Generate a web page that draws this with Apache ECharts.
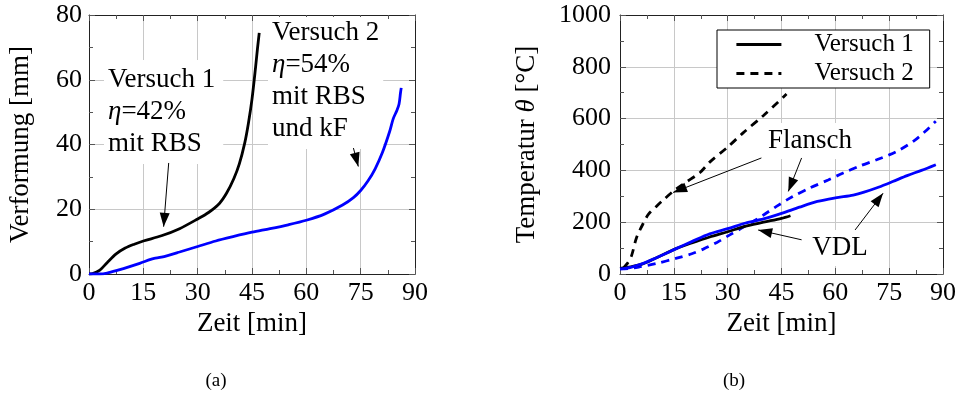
<!DOCTYPE html>
<html>
<head>
<meta charset="utf-8">
<script src="https://cdn.jsdelivr.net/npm/echarts@6/dist/echarts.min.js"></script>
<style>
  html, body { margin: 0; background: #fff; }
  #chart { width: 967px; height: 394px; }
</style>
</head>
<body>
<div id="chart"></div>
<script>
// --- data: (a) Verformung ---
const timeTicks = [0, 15, 30, 45, 60, 75, 90];
const defTicks = [0, 20, 40, 60, 80];
const tempTicks = [0, 200, 400, 600, 800, 1000];

const v1DefTime = [0, 1, 3, 5, 7.5, 10, 12.5, 15, 20, 25, 30, 33, 36, 38, 40, 41.5, 43, 44, 45, 46, 46.5, 47];
const v1Def     = [0, 0.1, 1.2, 3.5, 6.2, 8, 9.2, 10.2, 11.8, 14, 17, 19, 21.8, 25, 29.5, 34, 40.5, 46.5, 54, 64, 69.5, 74.5];

const v2DefTime = [0, 3, 5, 8, 11, 14, 17, 18, 20, 25, 30, 35, 40, 45, 50, 55, 60, 65, 70, 73, 75, 77, 79, 81, 83, 84, 85, 85.6, 86, 86.2];
const v2Def     = [0, 0, 0.3, 1.2, 2.2, 3.3, 4.5, 4.8, 5.2, 6.8, 8.5, 10.2, 11.6, 12.9, 14, 15.2, 16.6, 18.5, 21.3, 23.6, 25.8, 28.7, 32.5, 37.5, 44, 48, 50.5, 52.5, 56, 57.5];

// --- data: (b) Temperatur ---
const v1VdlTime = [0, 3, 6.5, 10, 15.8, 20, 25, 30, 34.3, 40, 45, 47.5];
const v1Vdl     = [22, 28, 40, 62, 99, 120, 143, 163, 182, 200, 215, 225];

const v2VdlTime = [0, 3, 6.5, 10, 15.8, 20, 25, 30, 35, 40, 45, 50, 55, 60, 65, 68, 72, 76, 80, 84, 88];
const v2Vdl     = [20, 26, 41, 62, 99, 125, 155, 175, 197, 213, 234, 258, 280, 294, 305, 316, 335, 357, 380, 400, 422];

const v1FlTime = [0.9, 2, 3.2, 4.6, 6.5, 8, 10.2, 12, 14.8, 18.6, 22.3, 25, 30, 34.3, 40, 46.4];
const v1Fl     = [22, 40, 70, 140, 196, 232, 262, 285, 319, 356, 392, 432, 490, 545, 612, 695];

const v2FlTime = [0, 3, 5.6, 10, 15.8, 20, 23.2, 27, 30.6, 34, 37.1, 40, 43.6, 48, 52.9, 58, 62.2, 67, 71.5, 75, 78, 82, 85, 88];
const v2Fl     = [20, 22, 28, 40, 61, 78, 96, 122, 151, 178, 203, 228, 261, 298, 332, 363, 390, 418, 441, 460, 480, 515, 550, 590];

// annotation arrows [from, to] in data coords
const leftArrows = [[[22, 34.3], [20.6, 14.6]], [[73, 38.9], [74.35, 33.2]]];
const rightArrows = [
  [[39.4, 448], [14.8, 315]],
  [[50.6, 448], [46.9, 319]],
  [[50.6, 132], [38.5, 170]],
  [[65.5, 170], [73.3, 312]]
];

const font = '"Liberation Serif", "Times New Roman", serif';
const fs = 26;   // tick labels
const fl = 27;   // axis names, notes
const gridColor = '#c8c8c8';
const axisColor = '#222';

function pairs(xs, ys) {
  return xs.map((x, i) => [x, ys[i]]);
}

function arrowLine(list) {
  return {
    silent: true,
    symbol: ['none', 'triangle'],
    symbolSize: [10, 14],
    symbolOffset: [[0, 0], [0, 7]],
    label: {show: false},
    lineStyle: {color: '#000', width: 1, type: 'solid'},
    emphasis: {disabled: true},
    data: list.map(a => [{coord: a[0]}, {coord: a[1]}])
  };
}

function xAxis(gridIndex, position, ticks, name) {
  const main = position === 'bottom';
  return {
    type: 'value', gridIndex, position,
    min: ticks[0], max: ticks[ticks.length - 1], interval: ticks[1] - ticks[0],
    name: main ? name : '',
    nameLocation: 'middle', nameGap: 33,
    nameTextStyle: {fontFamily: font, fontSize: fl, color: '#000'},
    axisLine: {show: true, onZero: false, lineStyle: {color: axisColor, width: 1}},
    axisTick: {show: true, inside: true, length: 6, lineStyle: {color: '#555'}},
    minorTick: {show: true, splitNumber: 2, length: 4, lineStyle: {color: '#555'}},
    axisLabel: {show: main, fontFamily: font, fontSize: fs, color: '#000', margin: 6, formatter: v => String(v)},
    splitLine: {show: main, lineStyle: {color: gridColor, width: 1}}
  };
}

function yAxis(gridIndex, position, ticks, name, gap, margin) {
  const main = position === 'left';
  return {
    type: 'value', gridIndex, position,
    min: ticks[0], max: ticks[ticks.length - 1], interval: ticks[1] - ticks[0],
    name: main ? name : '',
    nameLocation: 'middle', nameGap: gap, nameRotate: 90,
    nameTextStyle: {fontFamily: font, fontSize: fl, color: '#000', rich: {it: {fontFamily: font, fontSize: fl, fontStyle: 'italic'}}},
    axisLine: {show: true, onZero: false, lineStyle: {color: axisColor, width: 1}},
    axisTick: {show: true, inside: true, length: 6, lineStyle: {color: '#555'}},
    minorTick: {show: true, splitNumber: 2, length: 4, lineStyle: {color: '#555'}},
    axisLabel: {show: main, fontFamily: font, fontSize: fs, color: '#000', margin: margin, formatter: v => String(v)},
    splitLine: {show: main, lineStyle: {color: gridColor, width: 1}}
  };
}

function lineSeries(name, data, xi, yi, color, dashed, markLine) {
  const s = {
    name, type: 'line', data, xAxisIndex: xi, yAxisIndex: yi,
    smooth: 0.3, symbol: 'none', z: 3,
    lineStyle: {color, width: 2.8, type: dashed ? [8, 6] : 'solid'},
    itemStyle: {color},
    emphasis: {disabled: true}
  };
  if (markLine) s.markLine = markLine;
  return s;
}

// white-filled note boxes sit above the grid but below the curves
function textBlock(x, y, text, align, vAlign, padding) {
  return {
    type: 'text', z: 1,
    style: {
      x, y, text, align, verticalAlign: vAlign,
      fontFamily: font, fontSize: fl, lineHeight: 32, fill: '#000',
      backgroundColor: '#fff', padding,
      rich: {it: {fontFamily: font, fontSize: fl, fontStyle: 'italic', lineHeight: 32}}
    }
  };
}

const chart = echarts.init(document.getElementById('chart'));
chart.setOption({
  animation: false,
  backgroundColor: '#fff',
  grid: [
    {left: 89, top: 15, width: 326, height: 259},
    {left: 620, top: 15, width: 323, height: 259}
  ],
  xAxis: [
    xAxis(0, 'bottom', timeTicks, 'Zeit [min]'),
    xAxis(0, 'top', timeTicks, ''),
    xAxis(1, 'bottom', timeTicks, 'Zeit [min]'),
    xAxis(1, 'top', timeTicks, '')
  ],
  yAxis: [
    yAxis(0, 'left', defTicks, 'Verformung [mm]', 55, 7),
    yAxis(0, 'right', defTicks, '', 0, 7),
    yAxis(1, 'left', tempTicks, 'Temperatur {it|θ} [°C]', 80, 9),
    yAxis(1, 'right', tempTicks, '', 0, 9)
  ],
  legend: {
    data: ['Versuch 1', 'Versuch 2'],
    orient: 'vertical', left: 717, top: 30,
    backgroundColor: '#fff', borderColor: '#000', borderWidth: 1, borderRadius: 0,
    padding: [2, 16, 2, 18], itemWidth: 45, itemHeight: 3, itemGap: 4,
    selectedMode: false,
    itemStyle: {color: 'rgba(0,0,0,0)', borderWidth: 0, opacity: 0},
    lineStyle: {width: 2.8},
    textStyle: {fontFamily: font, fontSize: 25, color: '#000', padding: [0, 0, 0, 28]}
  },
  series: [
    lineSeries('Versuch 1 (a)', pairs(v1DefTime, v1Def), 0, 0, '#000', false, arrowLine(leftArrows)),
    lineSeries('Versuch 2 (a)', pairs(v2DefTime, v2Def), 0, 0, '#0000ff', false),
    lineSeries('Versuch 2', pairs(v1FlTime, v1Fl), 2, 2, '#000', true),
    lineSeries('Versuch 2 Flansch', pairs(v2FlTime, v2Fl), 2, 2, '#0000ff', true),
    lineSeries('Versuch 1', pairs(v1VdlTime, v1Vdl), 2, 2, '#000', false, arrowLine(rightArrows)),
    lineSeries('Versuch 2 VDL', pairs(v2VdlTime, v2Vdl), 2, 2, '#0000ff', false)
  ],
  graphic: [
    textBlock(104, 60, 'Versuch 1\n{it|η}=42%\nmit RBS', 'left', 'top', [4, 8, 4, 4]),
    textBlock(268, 17, 'Versuch 2\n{it|η}=54%\nmit RBS\nund kF', 'left', 'top', [0, 4, 4, 4]),
    textBlock(810, 141, 'Flansch', 'center', 'middle', [2, 4, 2, 4]),
    textBlock(840, 248, 'VDL', 'center', 'middle', [2, 4, 2, 4]),
    {type: 'text', style: {x: 216, y: 381, text: '(a)', align: 'center', verticalAlign: 'middle', fontFamily: font, fontSize: 19, fill: '#000'}},
    {type: 'text', style: {x: 734, y: 381, text: '(b)', align: 'center', verticalAlign: 'middle', fontFamily: font, fontSize: 19, fill: '#000'}}
  ]
});
</script>
</body>
</html>
